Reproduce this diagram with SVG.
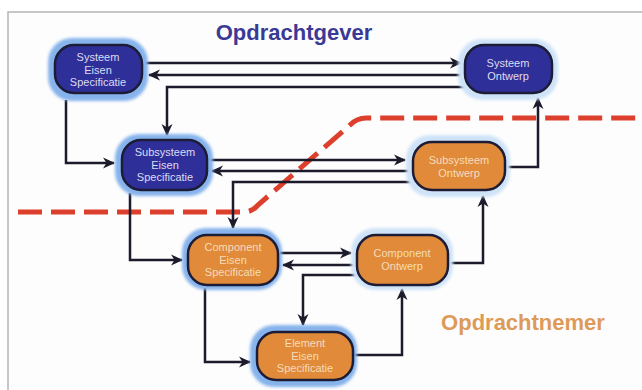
<svg xmlns="http://www.w3.org/2000/svg" width="642" height="390" viewBox="0 0 642 390">
<style>
.glowS{fill:#86b3ec}
.glowF{fill:#cfe3f8}
.box{stroke:#1c1c36;stroke-width:2.5}
.blue{fill:#2f2f9a}
.orange{fill:#e08a3a}
.tb{font-family:"Liberation Sans",Arial,sans-serif;font-size:11px;fill:#dcdcf0;text-anchor:middle}
.to{font-family:"Liberation Sans",Arial,sans-serif;font-size:11px;fill:#f6dcb8;text-anchor:middle}
.conn path{fill:none;stroke:#1b1b2b;stroke-width:2.5}
.title{font-family:"Liberation Sans",Arial,sans-serif;font-size:22px;font-weight:bold;text-anchor:middle}
</style>
<defs>
<filter id="soft" x="-20%" y="-30%" width="140%" height="160%"><feGaussianBlur stdDeviation="1.5"/></filter>
<marker id="ah" viewBox="0 0 12 12" refX="11" refY="6" markerWidth="12" markerHeight="12" markerUnits="userSpaceOnUse" orient="auto">
<path d="M0,0.5 L12,6 L0,11.5 L3.5,6 z" fill="#1b1b2b"/>
</marker>
</defs>
<rect x="0" y="0" width="642" height="390" fill="#ffffff"/>
<rect x="8" y="12" width="700" height="420" fill="#fdfdfd" stroke="#b5b5b5" stroke-width="1.5"/>

<text class="title" x="294" y="40" fill="#3a3a96">Opdrachtgever</text>
<text class="title" x="523" y="330" fill="#dd9a58">Opdrachtnemer</text>

<path d="M18,212 H244 Q252,212 258,205 L350,125 Q357,118 366,118 H642" fill="none" stroke="#dc3f2c" stroke-width="5" stroke-dasharray="24 9"/>

<g class="conn" id="connectors">
<path d="M142,63 H461" marker-end="url(#ah)"/>
<path d="M465,75 H149" marker-end="url(#ah)"/>
<path d="M465,87 H167 V135" marker-end="url(#ah)"/>
<path d="M66,100 V163 H114" marker-end="url(#ah)"/>
<path d="M208,160 H405" marker-end="url(#ah)"/>
<path d="M412,171 H212" marker-end="url(#ah)"/>
<path d="M412,182 H233 V228" marker-end="url(#ah)"/>
<path d="M506,167 H538 V98" marker-end="url(#ah)"/>
<path d="M130,193 V260 H182" marker-end="url(#ah)"/>
<path d="M280,253 H351" marker-end="url(#ah)"/>
<path d="M357,265 H283" marker-end="url(#ah)"/>
<path d="M357,275 H303 V325" marker-end="url(#ah)"/>
<path d="M449,263 H483 V196" marker-end="url(#ah)"/>
<path d="M205,288 V362 H250" marker-end="url(#ah)"/>
<path d="M354,355 H402 V289" marker-end="url(#ah)"/>
</g>

<g id="systeem-eisen">
<rect class="glowS" x="48" y="38" width="100" height="63" rx="24" filter="url(#soft)"/>
<rect class="box blue" x="55" y="45" width="87" height="48" rx="19"/>
<text class="tb" x="98" y="61">Systeem</text>
<text class="tb" x="98" y="73.5">Eisen</text>
<text class="tb" x="98" y="86">Specificatie</text>
</g>

<g id="systeem-ontwerp">
<rect class="glowF" x="458" y="39" width="100" height="61" rx="24" filter="url(#soft)"/>
<rect class="box blue" x="465" y="45" width="87" height="48" rx="19"/>
<text class="tb" x="508" y="67">Systeem</text>
<text class="tb" x="508" y="80">Ontwerp</text>
</g>

<g id="subsysteem-eisen">
<rect class="glowS" x="115" y="134" width="98" height="62" rx="24" filter="url(#soft)"/>
<rect class="box blue" x="122" y="140" width="85" height="50" rx="19"/>
<text class="tb" x="165" y="156">Subsysteem</text>
<text class="tb" x="165" y="168.5">Eisen</text>
<text class="tb" x="165" y="181">Specificatie</text>
</g>

<g id="subsysteem-ontwerp">
<rect class="glowF" x="406" y="135" width="104" height="62" rx="24" filter="url(#soft)"/>
<rect class="box orange" x="413" y="142" width="92" height="48" rx="19"/>
<text class="to" x="459" y="164">Subsysteem</text>
<text class="to" x="459" y="177">Ontwerp</text>
</g>

<g id="component-eisen">
<rect class="glowS" x="182" y="228" width="100" height="62" rx="24" filter="url(#soft)"/>
<rect class="box orange" x="188" y="235" width="90" height="50" rx="19"/>
<text class="to" x="233" y="251">Component</text>
<text class="to" x="233" y="263.5">Eisen</text>
<text class="to" x="233" y="276">Specificatie</text>
</g>

<g id="component-ontwerp">
<rect class="glowF" x="351" y="228" width="102" height="62" rx="24" filter="url(#soft)"/>
<rect class="box orange" x="357" y="235" width="91" height="50" rx="19"/>
<text class="to" x="402" y="257">Component</text>
<text class="to" x="402" y="270">Ontwerp</text>
</g>

<g id="element-eisen">
<rect class="glowS" x="250" y="325" width="107" height="62" rx="24" filter="url(#soft)"/>
<rect class="box orange" x="257" y="332" width="96" height="48" rx="19"/>
<text class="to" x="305" y="347">Element</text>
<text class="to" x="305" y="359.5">Eisen</text>
<text class="to" x="305" y="372">Specificatie</text>
</g>
</svg>
